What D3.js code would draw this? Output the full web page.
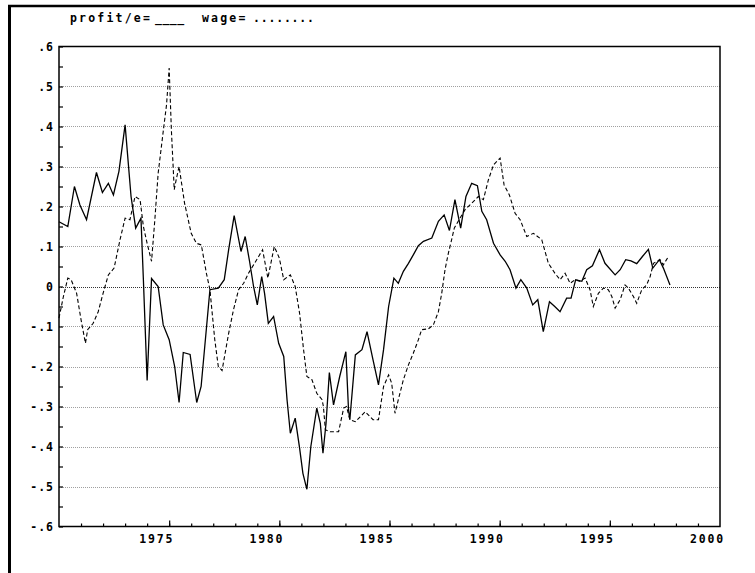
<!DOCTYPE html>
<html>
<head>
<meta charset="utf-8">
<script src="https://cdn.jsdelivr.net/npm/d3@7"></script>
<style>
  html, body { margin: 0; padding: 0; background: #fff; }
  svg text { font-family: "DejaVu Sans Mono", "Liberation Mono", monospace; font-weight: bold; fill: #000; }
</style>
</head>
<body>
<svg id="chart" width="755" height="573"></svg>
<script>
// ---- data ----
const profitYears = [1970.0,1970.4,1970.7,1970.95,1971.25,1971.7,1971.97,1972.24,1972.47,1972.72,1973.0,1973.27,1973.48,1973.72,1973.83,1974.0,1974.2,1974.5,1974.73,1975.0,1975.25,1975.45,1975.64,1975.95,1976.25,1976.45,1976.85,1977.23,1977.5,1977.7,1977.95,1978.26,1978.45,1978.65,1978.83,1979.0,1979.2,1979.33,1979.5,1979.74,1979.97,1980.2,1980.35,1980.5,1980.72,1980.92,1981.07,1981.25,1981.43,1981.7,1981.86,1981.98,1982.12,1982.27,1982.46,1982.74,1983.02,1983.14,1983.2,1983.45,1983.75,1983.98,1984.25,1984.5,1984.73,1984.96,1985.2,1985.4,1985.63,1985.86,1986.08,1986.31,1986.54,1986.92,1987.22,1987.48,1987.72,1987.97,1988.23,1988.47,1988.73,1988.99,1989.19,1989.41,1989.72,1990.02,1990.25,1990.47,1990.74,1990.96,1991.23,1991.5,1991.73,1991.98,1992.26,1992.5,1992.74,1993.04,1993.24,1993.45,1993.73,1993.95,1994.21,1994.53,1994.78,1995.24,1995.47,1995.72,1995.96,1996.22,1996.48,1996.75,1996.95,1997.25,1997.43,1997.73];
const profitValues = [0.162,0.15,0.25,0.204,0.167,0.285,0.235,0.258,0.229,0.288,0.404,0.225,0.146,0.171,0.017,-0.235,0.02,0.0,-0.096,-0.133,-0.2,-0.29,-0.165,-0.17,-0.29,-0.25,-0.008,-0.004,0.017,0.092,0.177,0.0875,0.125,0.0625,0.0,-0.046,0.025,-0.017,-0.092,-0.075,-0.142,-0.175,-0.283,-0.367,-0.329,-0.404,-0.467,-0.507,-0.4,-0.304,-0.342,-0.417,-0.342,-0.215,-0.296,-0.225,-0.163,-0.308,-0.333,-0.171,-0.158,-0.113,-0.183,-0.246,-0.158,-0.05,0.021,0.008,0.038,0.058,0.079,0.102,0.113,0.121,0.163,0.179,0.14,0.217,0.146,0.225,0.258,0.252,0.188,0.167,0.108,0.079,0.063,0.042,-0.004,0.017,-0.004,-0.046,-0.033,-0.113,-0.038,-0.05,-0.063,-0.029,-0.029,0.017,0.013,0.042,0.052,0.092,0.058,0.029,0.042,0.067,0.064,0.057,0.075,0.093,0.046,0.067,0.046,0.004];

const wageYears = [1970.0,1970.2,1970.4,1970.55,1970.8,1971.0,1971.2,1971.3,1971.55,1971.78,1972.0,1972.24,1972.5,1972.77,1973.0,1973.22,1973.45,1973.68,1973.83,1974.0,1974.2,1974.35,1974.5,1974.72,1974.88,1975.0,1975.1,1975.23,1975.33,1975.45,1975.7,1976.0,1976.24,1976.46,1976.69,1976.85,1977.07,1977.23,1977.4,1977.7,1977.92,1978.15,1978.38,1978.6,1978.83,1979.06,1979.24,1979.48,1979.77,1980.0,1980.2,1980.5,1980.72,1980.92,1981.1,1981.25,1981.48,1981.7,1981.94,1982.0,1982.09,1982.3,1982.69,1982.92,1983.05,1983.2,1983.45,1983.9,1984.25,1984.5,1984.73,1984.96,1985.1,1985.25,1985.4,1985.63,1985.86,1986.08,1986.31,1986.46,1986.76,1986.99,1987.22,1987.37,1987.52,1987.67,1987.82,1987.94,1988.2,1988.43,1988.73,1989.03,1989.26,1989.49,1989.72,1990.02,1990.2,1990.44,1990.7,1990.93,1991.23,1991.53,1991.91,1992.21,1992.51,1992.74,1992.97,1993.2,1993.42,1993.65,1993.88,1994.1,1994.25,1994.48,1994.71,1994.93,1995.09,1995.24,1995.47,1995.69,1995.84,1996.07,1996.22,1996.45,1996.67,1996.83,1996.98,1997.13,1997.28,1997.43,1997.66];
const wageValues = [-0.079,-0.025,0.021,0.017,-0.017,-0.083,-0.142,-0.108,-0.092,-0.063,-0.017,0.029,0.046,0.117,0.171,0.167,0.225,0.217,0.15,0.108,0.063,0.167,0.283,0.383,0.454,0.546,0.392,0.242,0.27,0.3,0.208,0.133,0.108,0.104,0.033,-0.008,-0.133,-0.2,-0.21,-0.117,-0.058,-0.008,0.008,0.033,0.054,0.075,0.092,0.021,0.1,0.071,0.017,0.029,0.0,-0.067,-0.158,-0.225,-0.233,-0.267,-0.283,-0.3,-0.358,-0.363,-0.363,-0.304,-0.3,-0.333,-0.338,-0.313,-0.333,-0.333,-0.25,-0.221,-0.242,-0.317,-0.283,-0.233,-0.196,-0.167,-0.133,-0.108,-0.106,-0.096,-0.063,-0.017,0.042,0.083,0.117,0.146,0.171,0.192,0.208,0.225,0.217,0.267,0.304,0.321,0.254,0.229,0.183,0.167,0.125,0.133,0.117,0.058,0.033,0.017,0.033,0.008,0.017,0.013,0.021,-0.008,-0.05,-0.017,-0.004,-0.008,-0.025,-0.054,-0.033,0.004,-0.004,-0.025,-0.042,-0.008,0.004,0.025,0.058,0.063,0.067,0.054,0.075];

const xTickLabels = [1975, 1980, 1985, 1990, 1995, 2000];
const yTickLabels = [0.6,0.5,0.4,0.3,0.2,0.1,0,-0.1,-0.2,-0.3,-0.4,-0.5,-0.6];

// ---- layout ----
const svg = d3.select("#chart");
const L = 59, R = 720, T = 46.5, B = 526.5;
const x = d3.scaleLinear().domain([1970, 2000]).range([L, R]);
const y = d3.scaleLinear().domain([-0.6, 0.6]).range([B, T]);

// outer frame
svg.append("line").attr("x1", 8).attr("x2", 755).attr("y1", 6).attr("y2", 6)
  .attr("stroke", "#000").attr("stroke-width", 2.5);
svg.append("line").attr("x1", 9.5).attr("x2", 9.5).attr("y1", 5).attr("y2", 573)
  .attr("stroke", "#000").attr("stroke-width", 3);

// title / legend
const title = svg.append("g").style("font-size", "11.5px").style("letter-spacing", "2.2px");
title.append("text").attr("x", 70).attr("y", 22).text("profit/e=");
title.append("text").attr("x", 155).attr("y", 22).style("letter-spacing", "0.5px").text("____");
title.append("text").attr("x", 202).attr("y", 22).text("wage=");
title.append("text").attr("x", 253).attr("y", 22).style("letter-spacing", "0.8px").text("........");

// gridlines
svg.append("g").selectAll("line")
  .data(yTickLabels.filter(v => Math.abs(v) < 0.55))
  .join("line")
  .attr("x1", L).attr("x2", R)
  .attr("y1", d => Math.round(y(d)) + 0.5).attr("y2", d => Math.round(y(d)) + 0.5)
  .attr("stroke", d => d === 0 ? "#333" : "#a0a0a0")
  .attr("stroke-width", 1)
  .attr("stroke-dasharray", "1,1");

// axes
const yTicksAll = d3.range(-12, 13).map(i => i * 0.05);
const yAxis = d3.axisRight(y).tickValues(yTicksAll).tickSize(4).tickFormat("");
const gy = svg.append("g").attr("transform", `translate(${L},0)`).call(yAxis);
gy.select(".domain").remove();
gy.selectAll("line").attr("stroke", "#000").attr("stroke-width", 1.2);

const yLab = svg.append("g").style("font-size", "11.5px").style("letter-spacing", "1px");
yLab.selectAll("text").data(yTickLabels).join("text")
  .attr("x", 54).attr("y", d => y(d)).attr("dy", "0.35em")
  .attr("text-anchor", "end")
  .text(d => d === 0 ? "0" : (d < 0 ? "-" : "") + String(Math.abs(d)).replace(/^0/, ""));

const xMinor = d3.range(1971, 2000);
const xAxisMinor = d3.axisTop(x).tickValues(xMinor).tickSize(3).tickFormat("");
const gx = svg.append("g").attr("transform", `translate(0,${B})`).call(xAxisMinor);
gx.select(".domain").remove();
gx.selectAll("line").attr("stroke", "#000").attr("stroke-width", 1.2);
const xAxisMajor = d3.axisTop(x).tickValues(xTickLabels.filter(v => v < 2000)).tickSize(6).tickFormat("");
const gx2 = svg.append("g").attr("transform", `translate(0,${B})`).call(xAxisMajor);
gx2.select(".domain").remove();
gx2.selectAll("line").attr("stroke", "#000").attr("stroke-width", 1.2);

const xLab = svg.append("g").style("font-size", "11.5px").style("letter-spacing", "1.8px");
xLab.selectAll("text").data(xTickLabels).join("text")
  .attr("x", d => x(d) + 5).attr("y", 543)
  .attr("text-anchor", "end")
  .text(d => d);

// plot frame
svg.append("rect").attr("x", L).attr("y", T).attr("width", R - L).attr("height", B - T)
  .attr("fill", "none").attr("stroke", "#000").attr("stroke-width", 1.5);

// series
const profit = profitYears.map((yr, i) => [yr, profitValues[i]]);
const wage = wageYears.map((yr, i) => [yr, wageValues[i]]);
const line = d3.line().x(d => x(d[0])).y(d => y(d[1]));

svg.append("path").datum(wage).attr("d", line)
  .attr("fill", "none").attr("stroke", "#000").attr("stroke-width", 1.1)
  .attr("stroke-dasharray", "4,2.5");
svg.append("path").datum(profit).attr("d", line)
  .attr("fill", "none").attr("stroke", "#000").attr("stroke-width", 1.3);
</script>
</body>
</html>
